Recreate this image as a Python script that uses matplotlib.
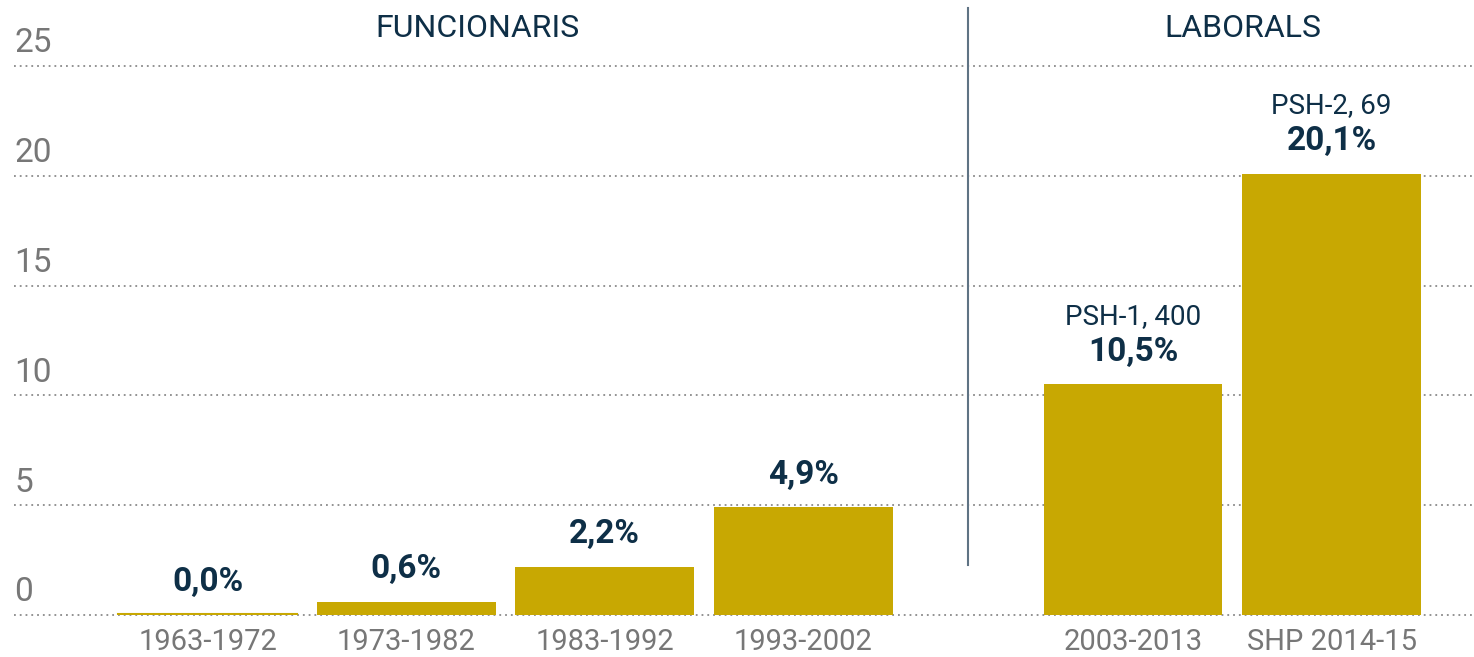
import numpy as np
import matplotlib
matplotlib.use("Agg")
import matplotlib.pyplot as plt

plt.rcParams['font.family'] = ['Roboto', 'DejaVu Sans']

periodes = ["1963-1972", "1973-1982", "1983-1992", "1993-2002", "2003-2013", "SHP 2014-15"]
valors = [0.0, 0.6, 2.2, 4.9, 10.5, 20.1]
etiquetes = ["0,0%", "0,6%", "2,2%", "4,9%", "10,5%", "20,1%"]
subetiquetes = ["", "", "", "", "PSH-1, 400", "PSH-2, 69"]
posicions = [0, 1, 2, 3, 4.66, 5.66]
yticks = [0, 5, 10, 15, 20, 25]

or_barra = "#C8A802"
blau = "#0E2F47"
gris = "#777777"

fig = plt.figure(figsize=(14.74, 6.57), dpi=100)
# eixos: y=0 a 615 px des de dalt, fins a dalt de tot
ax = fig.add_axes([0, 42 / 657, 1, 615 / 657])
ax.set_xlim(-1.045, 6.377)
ax.set_ylim(0, 28.0)
ax.axis("off")

# graella puntejada
x0 = -0.974
for t in yticks:
    ax.plot([x0, 6.377], [t, t], ls=(0, (1, 2.2)), color="#8a8a8a", lw=1.3, zorder=1, clip_on=False)
    ax.text(x0, t + 0.3, str(t), ha="left", va="bottom", fontsize=24, color=gris)

ax.bar(posicions[1:], valors[1:], width=0.9, color=or_barra, zorder=2)
# barra de 0,0%: només una línia fina
ax.plot([posicions[0] - 0.45, posicions[0] + 0.45], [0.05, 0.05], color=or_barra, lw=1.5, zorder=3)

for x, v, e, s, p in zip(posicions, valors, etiquetes, subetiquetes, periodes):
    ax.annotate(e, (x, v), xytext=(0, 12), textcoords="offset points",
                ha="center", va="bottom", fontsize=24, fontweight="bold", color=blau)
    if s:
        ax.annotate(s, (x, v), xytext=(0, 39), textcoords="offset points",
                    ha="center", va="bottom", fontsize=20, color=blau)
    ax.text(x, -0.6, p, ha="center", va="top", fontsize=21, color=gris, clip_on=False)

# separador entre grups
ax.plot([3.83, 3.83], [2.28, 27.64], color="#5f7384", lw=1.5, zorder=3)

ax.text(1.357, 26.7, "FUNCIONARIS", ha="center", va="center", fontsize=23, color=blau)
ax.text(5.215, 26.7, "LABORALS", ha="center", va="center", fontsize=23, color=blau)

fig.savefig("out.png", dpi=100)
